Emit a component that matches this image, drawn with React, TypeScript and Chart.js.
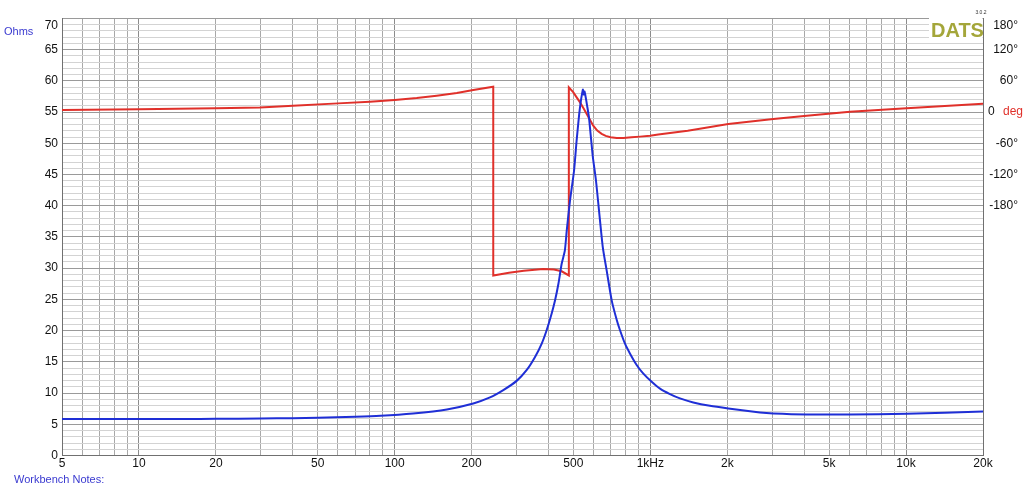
import React, { useEffect, useRef } from 'react';
import { Chart, registerables } from 'chart.js';

Chart.register(...registerables);

// Impedance magnitude (Ohms) vs frequency (Hz)
const impFreq = [5, 7, 10, 15, 20, 30, 40, 50, 70, 88, 118, 160, 203, 236, 266, 300, 328, 354, 376, 393, 411, 424, 437, 450, 463, 471, 485, 503, 515, 527, 535, 541, 545, 549, 553, 558, 566, 576, 595, 613, 651, 675, 706, 739, 761, 796, 833, 884, 939, 1012, 1091, 1193, 1306, 1472, 1710, 2018, 2684, 3027, 4087, 6037, 10050, 20000];
const impOhms = [5.83, 5.83, 5.84, 5.86, 5.87, 5.92, 5.98, 6.04, 6.2, 6.36, 6.74, 7.38, 8.34, 9.3, 10.47, 11.95, 13.66, 15.79, 17.93, 20.06, 22.7, 24.85, 27.5, 30.7, 32.8, 36.0, 40.8, 45.6, 50.5, 54.7, 56.8, 58.0, 58.6, 57.8, 58.3, 57.5, 56.0, 54.0, 48.0, 44.0, 33.5, 29.6, 24.85, 21.7, 20.06, 17.9, 16.3, 14.5, 13.1, 11.8, 10.7, 9.83, 9.14, 8.5, 7.96, 7.54, 6.9, 6.74, 6.58, 6.58, 6.68, 7.06];

// Phase (degrees) vs frequency (Hz)
const phaseFreq = [5, 10, 20, 29.7, 40, 60, 80, 100, 122, 146, 175, 203, 243, 243, 280, 320, 381, 420, 450, 480, 480, 500, 515, 531, 547, 564, 581, 598, 620, 645, 669, 699, 739, 784, 845, 911, 997, 1074, 1400, 2018, 3027, 4087, 6037, 10050, 20000];
const phaseDeg = [4.0, 5.2, 7.1, 9.0, 12.3, 16.7, 19.9, 23.2, 27, 31.4, 36.6, 42.4, 48.7, -314, -309, -305, -301.5, -302.5, -306, -314, 47.4, 37.8, 28.2, 18.6, 7.9, -3.6, -15.1, -26.1, -35.7, -42, -45.8, -48.5, -49.7, -49.7, -48.5, -47.2, -45.3, -43.3, -35.7, -22.8, -13.2, -6.9, 0.8, 7.1, 16];

// Axis labels
const xLabelValues = [5, 10, 20, 50, 100, 200, 500, 1000, 2000, 5000, 10000, 20000];
const xLabelTexts = ['5', '10', '20', '50', '100', '200', '500', '1kHz', '2k', '5k', '10k', '20k'];
const ohmMajorTicks = [0, 5, 10, 15, 20, 25, 30, 35, 40, 45, 50, 55, 60, 65, 70];
const degLabelValues = [180, 120, 60, 0, -60, -120, -180];
const degLabelTexts = ['180°', '120°', '60°', '0', '-60°', '-120°', '-180°'];

const FONT = 'Liberation Sans, Arial, Helvetica, sans-serif';
const BLUE = '#1f2fd6';
const RED = '#e0302a';

function gridFrequencies(): number[] {
  const out: number[] = [];
  for (let e = 0; e <= 4; e++) {
    for (let d = 1; d <= 9; d++) {
      const v = d * Math.pow(10, e);
      if (v >= 5 && v <= 20000) out.push(v);
    }
  }
  return out;
}

const overlayPlugin = {
  id: 'datsOverlay',
  beforeDatasetsDraw(chart: any) {
    const ctx = chart.ctx;
    ctx.save();
    ctx.fillStyle = '#ffffff';
    ctx.fillRect(929, 18, 53.5, 21.5);
    ctx.restore();
  },
  afterDraw(chart: any) {
    const ctx = chart.ctx;
    ctx.save();
    ctx.textBaseline = 'alphabetic';
    ctx.fillStyle = '#a4a63a';
    ctx.font = `bold 20px ${FONT}`;
    ctx.textAlign = 'left';
    ctx.fillText('DATS', 931, 37);
    ctx.fillStyle = '#333';
    ctx.font = `5px ${FONT}`;
    ctx.textAlign = 'center';
    ctx.fillText('3.0.2', 981, 14);

    ctx.textBaseline = 'middle';
    ctx.textAlign = 'left';
    ctx.fillStyle = '#3a3ad0';
    ctx.font = `11px ${FONT}`;
    ctx.fillText('Ohms', 4, 31.5);
    ctx.fillText('Workbench Notes:', 14, 480);

    const y2 = chart.scales.y2;
    ctx.fillStyle = RED;
    ctx.font = `12px ${FONT}`;
    ctx.fillText('deg', 1003, y2.getPixelForValue(0) - 0.5);
    ctx.restore();
  },
};

export default function App() {
  const ref = useRef<HTMLCanvasElement | null>(null);

  useEffect(() => {
    if (!ref.current) return;
    const chart = new Chart(ref.current, {
      type: 'scatter',
      data: {
        datasets: [
          {
            label: 'Impedance',
            data: impFreq.map((f, i) => ({ x: f, y: impOhms[i] })),
            yAxisID: 'y',
            showLine: true,
            borderColor: BLUE,
            backgroundColor: BLUE,
            borderWidth: 2,
            pointRadius: 0,
            tension: 0.2,
          },
          {
            label: 'Phase',
            data: phaseFreq.map((f, i) => ({ x: f, y: phaseDeg[i] })),
            yAxisID: 'y2',
            showLine: true,
            borderColor: RED,
            backgroundColor: RED,
            borderWidth: 2,
            pointRadius: 0,
            tension: 0,
          },
        ],
      },
      options: {
        responsive: false,
        animation: false,
        layout: { padding: { top: 17, left: 0, right: 6, bottom: 0 } },
        plugins: { legend: { display: false }, tooltip: { enabled: false } },
        scales: {
          x: {
            type: 'logarithmic',
            position: 'bottom',
            min: 5,
            max: 20000,
            afterBuildTicks: (s: any) => {
              s.ticks = gridFrequencies().map((v) => ({ value: v }));
            },
            afterFit: (s: any) => {
              s.height = 34.5;
            },
            ticks: {
              autoSkip: false,
              maxRotation: 0,
              minRotation: 0,
              padding: 1,
              color: '#111',
              font: { family: FONT, size: 12 },
              callback: (v: any) => {
                const i = xLabelValues.indexOf(Number(v));
                return i >= 0 ? xLabelTexts[i] : '';
              },
            },
            grid: {
              drawTicks: false,
              lineWidth: 1,
              color: (c: any) => {
                const v = c.tick ? c.tick.value : 0;
                return [10, 100, 1000, 10000].includes(v) ? '#8c8c8c' : '#a8a8a8';
              },
            },
            border: { display: true, color: '#707070', width: 1 },
          },
          y: {
            type: 'linear',
            position: 'left',
            min: 0,
            max: 70,
            afterBuildTicks: (s: any) => {
              const t: any[] = [];
              for (let v = 0; v <= 70; v++) t.push({ value: v });
              s.ticks = t;
            },
            afterFit: (s: any) => {
              s.width = 62;
            },
            ticks: {
              autoSkip: false,
              padding: 4,
              color: '#111',
              font: { family: FONT, size: 12 },
              callback: (v: any) => {
                const n = Number(v);
                if (!ohmMajorTicks.includes(n)) return '';
                if (n === 70) return ['', '70'];
                return String(n);
              },
            },
            grid: {
              drawTicks: false,
              lineWidth: 1,
              color: (c: any) => {
                const v = c.tick ? c.tick.value : 0;
                return v % 5 === 0 ? '#9a9a9a' : '#d3d3d3';
              },
            },
            border: { display: true, color: '#707070', width: 1 },
          },
          y2: {
            type: 'linear',
            position: 'right',
            min: -660,
            max: 180,
            afterBuildTicks: (s: any) => {
              const t: any[] = [];
              for (let v = -660; v <= 180; v += 60) t.push({ value: v });
              s.ticks = t;
            },
            afterFit: (s: any) => {
              s.width = 35;
            },
            ticks: {
              autoSkip: false,
              padding: 4,
              crossAlign: 'far',
              color: '#111',
              font: { family: FONT, size: 12 },
              callback: (v: any) => {
                const i = degLabelValues.indexOf(Number(v));
                if (i < 0) return '';
                const txt = degLabelTexts[i];
                if (Number(v) === 180) return ['', txt];
                if (Number(v) === 0) return txt + '       ';
                return txt;
              },
            },
            grid: { display: false, drawTicks: false },
            border: { display: true, color: '#707070', width: 1 },
          },
        },
      } as any,
      plugins: [overlayPlugin],
    });
    return () => chart.destroy();
  }, []);

  return (
    <div style={{ position: 'absolute', left: 0, top: 0, width: 1024, height: 490, background: '#ffffff' }}>
      <canvas ref={ref} width={1024} height={490} style={{ display: 'block' }} />
    </div>
  );
}
